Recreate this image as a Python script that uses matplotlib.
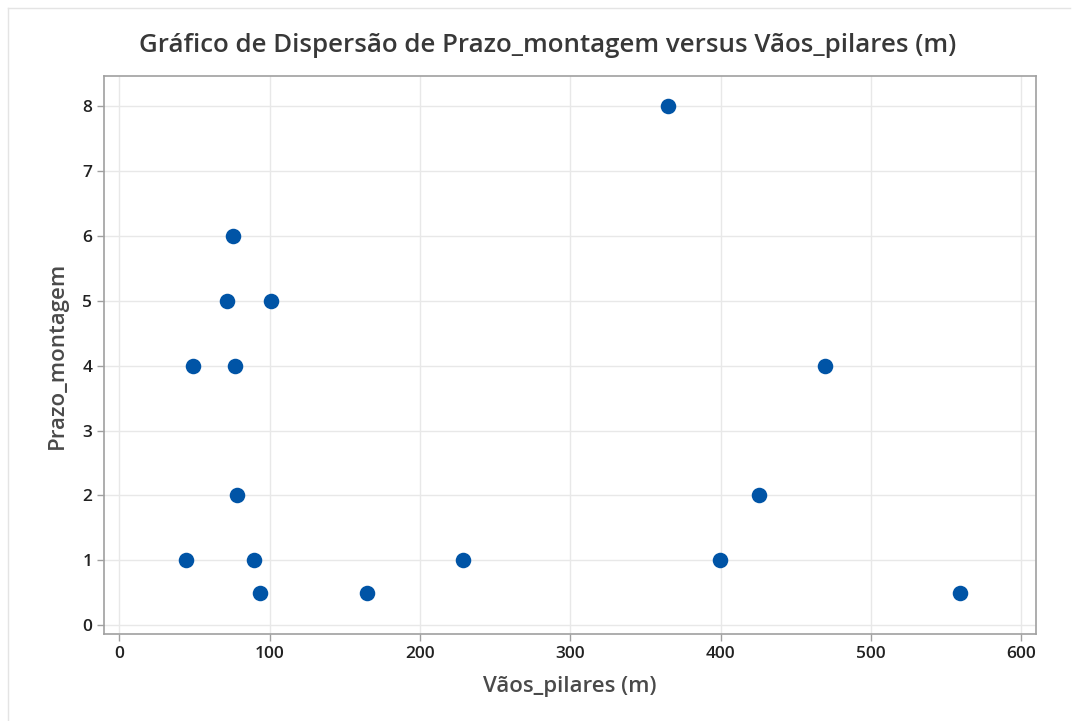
import matplotlib.pyplot as plt
from matplotlib.lines import Line2D

# Dados
vaos_pilares = [44, 49, 71.5, 75.5, 77, 78, 89.5, 93.5, 100.5, 165, 228.5, 365, 399.5, 425.5, 469.5, 559.5]
prazo_montagem = [1, 4, 5, 6, 4, 2, 1, 0.5, 5, 0.5, 1, 8, 1, 2, 4, 0.5]

x_ticks = [0, 100, 200, 300, 400, 500, 600]
y_ticks = [0, 1, 2, 3, 4, 5, 6, 7, 8]

plt.rcParams['font.family'] = ['Open Sans', 'DejaVu Sans']

fig = plt.figure(figsize=(10.76, 7.21), dpi=100)
ax = fig.add_axes([104 / 1076, 1 - 634 / 721, (1036 - 104) / 1076, (634 - 76) / 721])

ax.scatter(vaos_pilares, prazo_montagem, s=125, color='#0054A6', zorder=3, linewidths=0)

ax.set_xlim(-10.3, 609.8)
ax.set_ylim(-0.14, 8.47)
ax.set_xticks(x_ticks)
ax.set_yticks(y_ticks)
ax.grid(True, color='#e8e8e8', linewidth=1)
ax.set_axisbelow(True)

for s in ax.spines.values():
    s.set_color('#a0a0a0')
    s.set_linewidth(1.2)
ax.tick_params(colors='#a0a0a0', length=5, width=1, labelcolor='#222222', labelsize=12.5)
for lbl in ax.get_xticklabels() + ax.get_yticklabels():
    lbl.set_fontweight('semibold')

ax.set_xlabel('Vãos_pilares (m)', fontsize=16, fontweight='semibold', color='#4a4a4a', labelpad=10)
ax.set_ylabel('Prazo_montagem', fontsize=16, fontweight='semibold', color='#4a4a4a', labelpad=10)
fig.text(548 / 1076, 1 - 45 / 721, 'Gráfico de Dispersão de Prazo_montagem versus Vãos_pilares (m)',
         ha='center', va='center', fontsize=18.6, fontweight='semibold', color='#383838')

# moldura clara da janela
fig.add_artist(Line2D([8 / 1076, 1070 / 1076], [1 - 8 / 721, 1 - 8 / 721], color='#e4e4e4', linewidth=1))
fig.add_artist(Line2D([8 / 1076, 8 / 1076], [0, 1 - 8 / 721], color='#e4e4e4', linewidth=1))

fig.savefig('out.png', dpi=100)
